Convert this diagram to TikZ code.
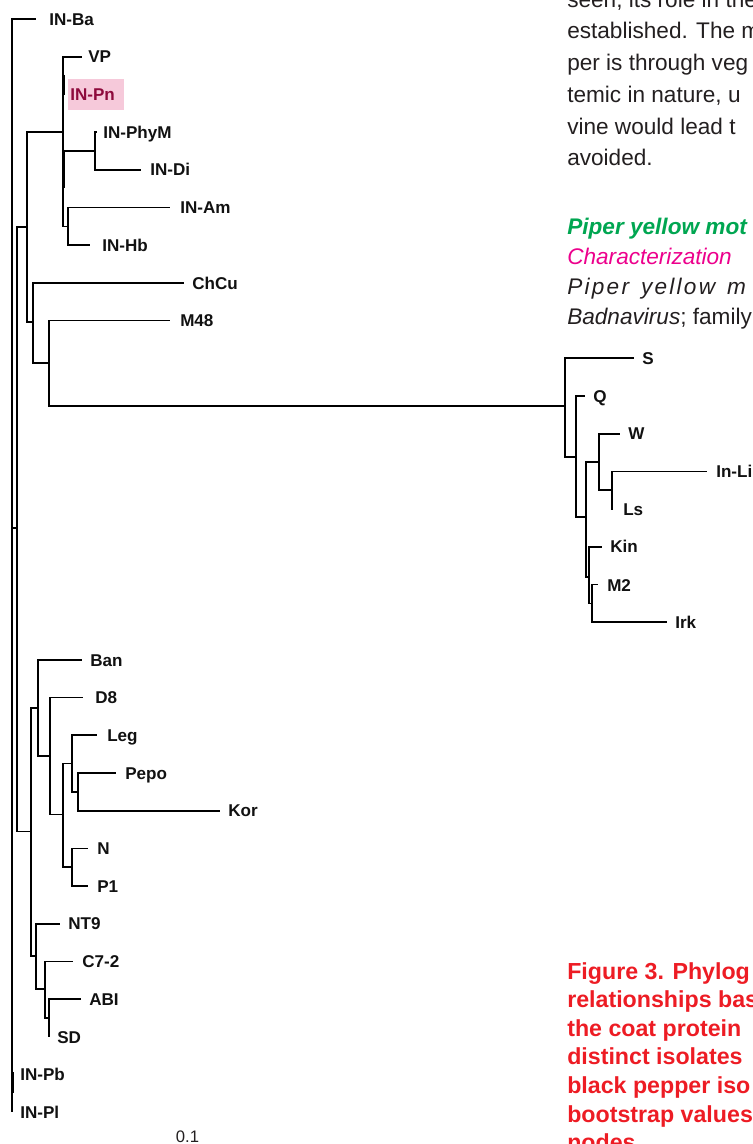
\documentclass[tikz,border=0pt]{standalone}
\usepackage{fontspec}
\setmainfont{Liberation Sans}
\newfontfamily\spacedfont[LetterSpace=10]{Liberation Sans}
\definecolor{labcol}{HTML}{111111}
\definecolor{bodycol}{HTML}{231F20}
\definecolor{capred}{HTML}{ED1C24}
\definecolor{headgreen}{HTML}{00A651}
\definecolor{headmag}{HTML}{EC008C}
\definecolor{pinkbg}{HTML}{F6C9DA}
\definecolor{pntext}{HTML}{8E0A3C}
\begin{document}
\begin{tikzpicture}[x=0.75pt,y=-0.75pt,
  br/.style={line width=1.3pt},
  brthick/.style={line width=2.6pt},
  lab/.style={anchor=west, inner sep=0pt, font=\fontsize{12.8pt}{14pt}\selectfont\bfseries, text height=9.2pt, text depth=0pt, text=labcol},
  bodytxt/.style={anchor=base west, inner sep=0pt, font=\fontsize{16.95pt}{20pt}\selectfont, text=bodycol},
  captxt/.style={anchor=base west, inner sep=0pt, font=\fontsize{17.4pt}{20pt}\selectfont\bfseries, text=capred}
]
\useasboundingbox (0,0) rectangle (752,1144);
\clip (0,0) rectangle (752,1144);

% ---------- internal nodes ----------
\coordinate (root) at (12,528);
\coordinate (X1) at (17,528);
\coordinate (X2) at (27,227);
\coordinate (A) at (63,132);
\coordinate (B) at (95,151);
\coordinate (C) at (68,226.4);
\coordinate (D) at (33,322);
\coordinate (E) at (49,363.3);
\coordinate (F) at (565,406);
\coordinate (G) at (576,457);
\coordinate (H) at (586,517);
\coordinate (I) at (599,461.9);
\coordinate (J) at (612,490.2);
\coordinate (K) at (589,577);
\coordinate (L) at (592,603.4);
\coordinate (M) at (31,831.5);
\coordinate (N1) at (38,708);
\coordinate (O) at (50,755.8);
\coordinate (P) at (63,814.5);
\coordinate (Q1) at (72,763.6);
\coordinate (R) at (78,791.9);
\coordinate (S1) at (72,867.3);
\coordinate (T) at (36,956);
\coordinate (U) at (45,989.3);
\coordinate (V) at (49,1018);

% ---------- tips ----------
\coordinate (tBa) at (36,19);
\coordinate (tVP) at (82,56.7);
\coordinate (tPn) at (63,94.4);
\coordinate (tPhyM) at (97,132.1);
\coordinate (tDi) at (141,169.8);
\coordinate (tAm) at (170,207.5);
\coordinate (tHb) at (90,245.2);
\coordinate (tChCu) at (184,282.9);
\coordinate (tM48) at (170,320.6);
\coordinate (tS) at (634,358.3);
\coordinate (tQ) at (585,396);
\coordinate (tW) at (620,433.7);
\coordinate (tLi) at (707,471.4);
\coordinate (tLs) at (613,509.1);
\coordinate (tKin) at (602,546.8);
\coordinate (tM2) at (598,584.5);
\coordinate (tIrk) at (667,622.2);
\coordinate (tBan) at (82,659.9);
\coordinate (tD8) at (83,697.6);
\coordinate (tLeg) at (97,735.3);
\coordinate (tPepo) at (116,773);
\coordinate (tKor) at (220,810.7);
\coordinate (tN) at (88,848.4);
\coordinate (tP1) at (88,886.1);
\coordinate (tNT9) at (60,923.8);
\coordinate (tC7) at (73,961.5);
\coordinate (tABI) at (81,999.2);
\coordinate (tSD) at (49,1036.9);
\coordinate (tPb) at (12,1074.6);
\coordinate (tPl) at (12,1112.3);

% ---------- branches ----------
\draw[br] (root) |- (tBa);
\draw[br] (root) |- (tPb);
\draw[br] (root) |- (tPl);
\draw[br] (root) -- (X1);
\draw[br] (X1) |- (X2);
\draw[br] (X1) |- (M);
\draw[br] (X2) |- (A);
\draw[br] (X2) |- (D);
\draw[br] (A) |- (tVP);
\draw[br] (A) |- (tPn);
\draw[br] (A) |- (B);
\draw[br] (A) |- (C);
\draw[br] (B) |- (tPhyM);
\draw[br] (B) |- (tDi);
\draw[br] (C) |- (tAm);
\draw[br] (C) |- (tHb);
\draw[br] (D) |- (tChCu);
\draw[br] (D) |- (E);
\draw[br] (E) |- (tM48);
\draw[br] (E) |- (F);
\draw[br] (F) |- (tS);
\draw[br] (F) |- (G);
\draw[br] (G) |- (tQ);
\draw[br] (G) |- (H);
\draw[br] (H) |- (I);
\draw[br] (H) |- (K);
\draw[br] (I) |- (tW);
\draw[br] (I) |- (J);
\draw[br] (J) |- (tLi);
\draw[br] (J) |- (tLs);
\draw[br] (K) |- (tKin);
\draw[br] (K) |- (L);
\draw[br] (L) |- (tM2);
\draw[br] (L) |- (tIrk);
\draw[br] (M) |- (N1);
\draw[br] (M) |- (T);
\draw[br] (N1) |- (tBan);
\draw[br] (N1) |- (O);
\draw[br] (O) |- (tD8);
\draw[br] (O) |- (P);
\draw[br] (P) |- (Q1);
\draw[br] (P) |- (S1);
\draw[br] (Q1) |- (tLeg);
\draw[br] (Q1) |- (R);
\draw[br] (R) |- (tPepo);
\draw[br] (R) |- (tKor);
\draw[br] (S1) |- (tN);
\draw[br] (S1) |- (tP1);
\draw[br] (T) |- (tNT9);
\draw[br] (T) |- (U);
\draw[br] (U) |- (tC7);
\draw[br] (U) |- (V);
\draw[br] (V) |- (tABI);
\draw[br] (V) |- (tSD);

% thick short-branch overlaps
\coordinate (thA1) at (63.4,150);
\coordinate (thA2) at (63.4,188);
\coordinate (thA3) at (63.4,75);
\coordinate (thA4) at (63.4,95);
\coordinate (thR1) at (12.6,1072);
\coordinate (thR2) at (12.6,1093);
\draw[brthick] (thA1) -- (thA2);
\draw[brthick] (thA3) -- (thA4);
\draw[brthick] (thR1) -- (thR2);

% ---------- highlight ----------
\fill[pinkbg] (68,79) rectangle (124,110);

% ---------- labels ----------
\node[lab] (lBa) at (49,19) {IN-Ba};
\node[lab] (lVP) at (88,56.7) {VP};
\node[lab, text=pntext] (lPn) at (70,94.4) {IN-Pn};
\node[lab] (lPhyM) at (103,132.1) {IN-PhyM};
\node[lab] (lDi) at (150,169.8) {IN-Di};
\node[lab] (lAm) at (180,207.5) {IN-Am};
\node[lab] (lHb) at (102,245.2) {IN-Hb};
\node[lab] (lChCu) at (192,282.9) {ChCu};
\node[lab] (lM48) at (180,320.6) {M48};
\node[lab] (lS) at (642,358.3) {S};
\node[lab] (lQ) at (593,396) {Q};
\node[lab] (lW) at (628,433.7) {W};
\node[lab] (lLi) at (716,471.4) {In-Li};
\node[lab] (lLs) at (623,509.1) {Ls};
\node[lab] (lKin) at (610,546.8) {Kin};
\node[lab] (lM2) at (607,585) {M2};
\node[lab] (lIrk) at (675,622.2) {Irk};
\node[lab] (lBan) at (90,659.9) {Ban};
\node[lab] (lD8) at (95,697.6) {D8};
\node[lab] (lLeg) at (107,735.3) {Leg};
\node[lab] (lPepo) at (125,773) {Pepo};
\node[lab] (lKor) at (228,810.7) {Kor};
\node[lab] (lN) at (97,848.4) {N};
\node[lab] (lP1) at (97,886.1) {P1};
\node[lab] (lNT9) at (68,923.8) {NT9};
\node[lab] (lC7) at (82,961.5) {C7-2};
\node[lab] (lABI) at (89,999.2) {ABI};
\node[lab] (lSD) at (57,1036.9) {SD};
\node[lab] (lPb) at (20,1074.6) {IN-Pb};
\node[lab] (lPl) at (20,1112.3) {IN-Pl};

\node[anchor=center, inner sep=0pt, font=\fontsize{12.5pt}{14pt}\selectfont, text=bodycol] (scale) at (187.5,1137) {0.1};

% ---------- body text ----------
\node[bodytxt] (b1) at (567,7.3) {seen, its role in the};
\node[bodytxt] (b2) at (567,39) {established. The m};
\node[bodytxt] (b3) at (567,70.7) {per is through veg};
\node[bodytxt] (b4) at (567,102.4) {temic in nature, u};
\node[bodytxt] (b5) at (567,134.1) {vine would lead t};
\node[bodytxt] (b6) at (567,165.8) {avoided.};
\node[bodytxt, font=\fontsize{16.95pt}{20pt}\selectfont\bfseries\itshape, text=headgreen] (h1) at (567,235) {Piper yellow mot};
\node[bodytxt, font=\fontsize{16.95pt}{20pt}\selectfont\itshape, text=headmag] (h2) at (567,264.5) {Characterization};
\node[bodytxt, font=\fontsize{16.95pt}{20pt}\spacedfont\itshape] (h3) at (567,295) {Piper\hspace{9pt}yellow\hspace{9pt}m};
\node[bodytxt] (h4) at (567,325) {\textit{Badnavirus}; family};

% ---------- caption ----------
\node[captxt] (c1) at (567,979) {Figure 3. Phylog};
\node[captxt] (c2) at (567,1007.6) {relationships bas};
\node[captxt] (c3) at (567,1036.2) {the coat protein};
\node[captxt] (c4) at (567,1064.8) {distinct isolates};
\node[captxt] (c5) at (567,1093.4) {black pepper iso};
\node[captxt] (c6) at (567,1122) {bootstrap values};
\node[captxt] (c7) at (567,1150.6) {nodes};
\end{tikzpicture}
\end{document}
